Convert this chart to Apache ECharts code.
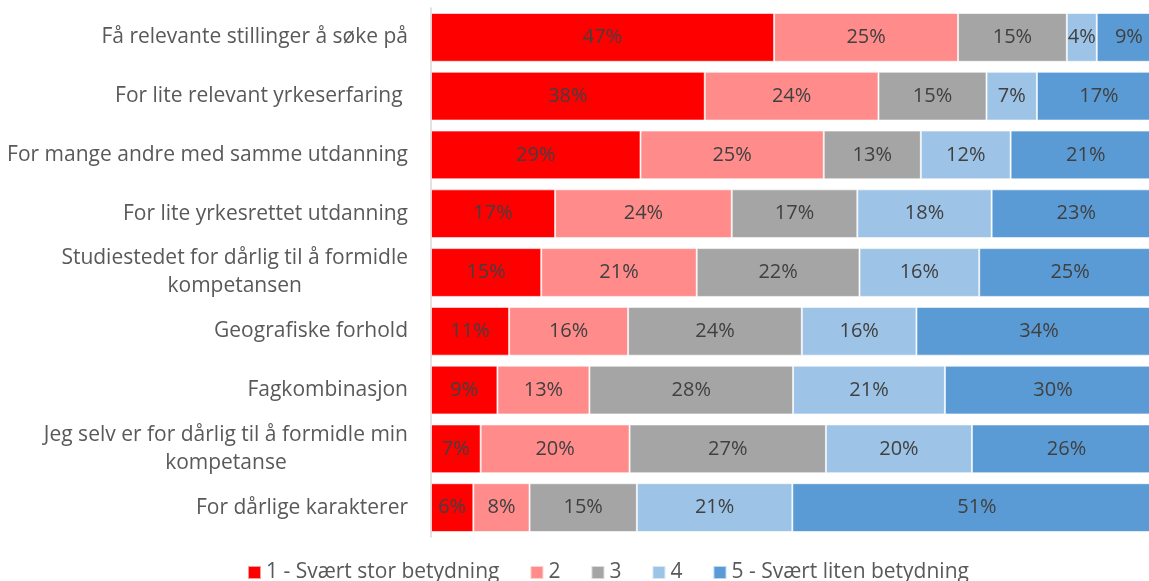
<!DOCTYPE html>
<html>
<head>
<meta charset="utf-8">
<script src="https://cdn.jsdelivr.net/npm/echarts@6/dist/echarts.min.js"></script>
<style>
    html, body { margin: 0; padding: 0; background: #fff; }
    #chart { width: 1149px; height: 581px; }
</style>
</head>
<body>
<div id="chart"></div>
<script>
    // kategorier (ovenfra og ned)
    const categories = [
        'Få relevante stillinger å søke på',
        'For lite relevant yrkeserfaring ',
        'For mange andre med samme utdanning',
        'For lite yrkesrettet utdanning',
        'Studiestedet for dårlig til å formidle\nkompetansen',
        'Geografiske forhold',
        'Fagkombinasjon',
        'Jeg selv er for dårlig til å formidle min\nkompetanse',
        'For dårlige karakterer'
    ];
    const seriesNames = ['1 - Svært stor betydning', '2', '3', '4', '5 - Svært liten betydning'];
    const colors = ['#FF0000', '#FF8B8B', '#A5A5A5', '#9DC3E6', '#5B9BD5'];

    // andeler i prosent, lest av segmentbreddene
    const grade1 = [47.0, 37.5, 28.7, 17.0, 15.1, 10.7, 9.1, 6.8, 5.8];
    const grade2 = [25.2, 23.8, 25.1, 24.2, 21.3, 16.3, 12.6, 20.4, 7.7];
    const grade3 = [14.9, 14.8, 13.3, 17.2, 22.3, 23.8, 27.9, 26.9, 14.7];
    const grade4 = [4.1, 6.9, 12.3, 18.4, 16.4, 15.7, 20.8, 20.0, 21.3];
    const grade5 = [8.8, 17.0, 20.6, 23.2, 24.9, 33.6, 29.6, 25.9, 50.6];
    const allGrades = [grade1, grade2, grade3, grade4, grade5];

    const font = '"Open Sans", sans-serif';

    let chart = echarts.init(document.getElementById('chart'));
    let option = {
        animation: false,
        color: colors,
        grid: {
            left: 431,
            top: 8,
            width: 730,
            height: 529,
            outerBoundsMode: 'none',
            containLabel: false
        },
        legend: {
            bottom: -2,
            left: 247,
            padding: 0,
            itemWidth: 13,
            itemHeight: 13,
            itemGap: 30,
            icon: 'rect',
            textStyle: {
                color: '#595959',
                fontSize: 21,
                fontFamily: font
            },
            data: seriesNames
        },
        xAxis: {
            type: 'value',
            min: 0,
            max: 100,
            show: false
        },
        yAxis: {
            type: 'category',
            inverse: true,
            data: categories,
            axisLine: {
                lineStyle: { color: '#D9D9D9', width: 1.5 }
            },
            axisTick: { show: false },
            axisLabel: {
                margin: 23,
                color: '#595959',
                fontSize: 21,
                fontFamily: font,
                formatter: function (value) {
                    return value.split('\n').map(function (l) { return '{c|' + l + '}'; }).join('\n');
                },
                rich: {
                    c: {
                        align: 'center',
                        color: '#595959',
                        fontSize: 21,
                        fontFamily: font,
                        lineHeight: 28
                    }
                }
            }
        },
        series: allGrades.map(function (vals, i) {
            return {
                name: seriesNames[i],
                type: 'bar',
                stack: 'total',
                barCategoryGap: '17%',
                itemStyle: {
                    borderColor: 'rgba(255,255,255,0.6)',
                    borderWidth: 1
                },
                label: {
                    show: true,
                    position: 'inside',
                    color: '#404040',
                    fontSize: 20,
                    fontFamily: font,
                    formatter: function (p) {
                        return Math.round(p.value) + '%';
                    }
                },
                data: vals
            };
        })
    };
    chart.setOption(option);
    window.addEventListener('resize', function () {
        chart.resize();
    });
</script>
</body>
</html>
